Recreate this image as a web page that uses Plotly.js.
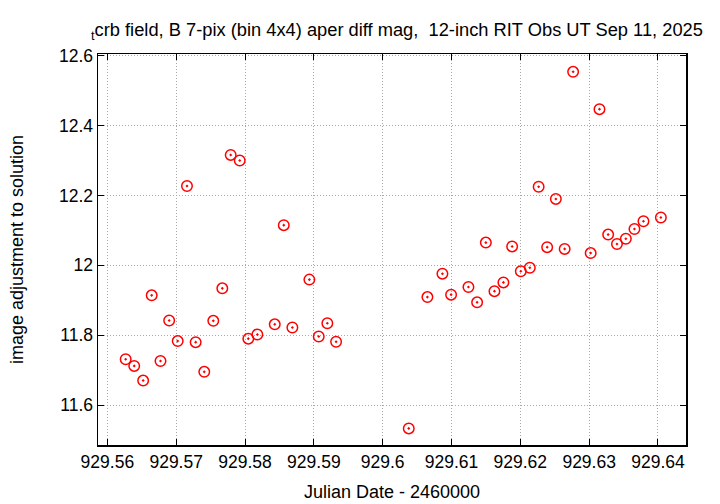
<!DOCTYPE html>
<html>
<head>
<meta charset="utf-8">
<script src="https://cdn.plot.ly/plotly-3.0.1.min.js"></script>
<style>html,body{margin:0;padding:0;background:#fff}#chart{width:720px;height:504px}</style>
</head>
<body>
<div id="chart"></div>
<script>
// Julian Date - 2460000
const jd = [
  929.56266, 929.56390, 929.56520, 929.56644, 929.56772, 929.56898, 929.57022, 929.57157,
  929.57283, 929.57408, 929.57539, 929.57670, 929.57792, 929.57923, 929.58048, 929.58179,
  929.58432, 929.58563, 929.58688, 929.58935, 929.59071, 929.59196, 929.59323,
  929.60379, 929.60650, 929.60868, 929.60994, 929.61246, 929.61372, 929.61499, 929.61624,
  929.61754, 929.61881, 929.62007, 929.62138, 929.62266, 929.62390, 929.62516, 929.62644,
  929.62767, 929.63022, 929.63150, 929.63276, 929.63404, 929.63533, 929.63658, 929.63789,
  929.64042
];
// image adjustment to solution (mag)
const adj = [
  11.731, 11.712, 11.670, 11.914, 11.726, 11.842, 11.783, 12.227,
  11.780, 11.695, 11.841, 11.934, 12.316, 12.300, 11.790, 11.802,
  11.831, 12.115, 11.822, 11.959, 11.796, 11.834, 11.781,
  11.533, 11.909, 11.976, 11.916, 11.938, 11.894, 12.065, 11.926,
  11.951, 12.054, 11.983, 11.993, 12.225, 12.052, 12.190, 12.047,
  12.554, 12.035, 12.447, 12.088, 12.061, 12.076, 12.104, 12.126,
  12.137
];
const xTicks = [929.56, 929.57, 929.58, 929.59, 929.6, 929.61, 929.62, 929.63, 929.64];
const xTickText = ['929.56', '929.57', '929.58', '929.59', '929.6', '929.61', '929.62', '929.63', '929.64'];
const yTicks = [11.6, 11.8, 12, 12.2, 12.4, 12.6];
const yTickText = ['11.6', '11.8', '12', '12.2', '12.4', '12.6'];

const fam = '"Liberation Sans", Arial, sans-serif';
const tickFont = {family: fam, size: 17.5, color: '#000'};

const trace = {
  x: jd, y: adj, type: 'scatter', mode: 'markers',
  marker: {symbol: 'circle-open-dot', size: 10.5, color: '#ff0000', line: {color: '#ff0000', width: 1.5}},
  hoverinfo: 'x+y'
};

const axisCommon = {
  showline: true, linecolor: '#000', linewidth: 1.5, mirror: 'ticks',
  ticks: 'inside', ticklen: 6, tickcolor: '#000', tickwidth: 1,
  showgrid: true, gridcolor: '#a8a8a8', griddash: '1px,2px', gridwidth: 1,
  zeroline: false, tickfont: tickFont, tickmode: 'array'
};

const layout = {
  width: 720, height: 504,
  margin: {l: 98, r: 34, t: 54, b: 59},
  paper_bgcolor: '#fff', plot_bgcolor: '#fff',
  showlegend: false,
  font: tickFont,
  title: {
    text: '<sub>t</sub>crb field, B 7-pix (bin 4x4) aper diff mag, \u00A012-inch RIT Obs UT Sep 11, 2025',
    font: {family: fam, size: 18.3, color: '#000'},
    xref: 'container', yref: 'container', x: 91/720, xanchor: 'left', y: 1 - 30/504, yanchor: 'middle'
  },
  xaxis: Object.assign({}, axisCommon, {
    range: [929.55864, 929.64407], tickvals: xTicks, ticktext: xTickText,
    title: {text: 'Julian Date - 2460000', font: {family: fam, size: 18, color: '#000'}, standoff: 15}
  }),
  yaxis: Object.assign({}, axisCommon, {
    range: [11.4855, 12.605], tickvals: yTicks, ticktext: yTickText,
    title: {text: 'image adjustment to solution', font: {family: fam, size: 18, color: '#000'}, standoff: 30}
  })
};

Plotly.newPlot('chart', [trace], layout, {displayModeBar: false, staticPlot: true});
</script>
</body>
</html>
